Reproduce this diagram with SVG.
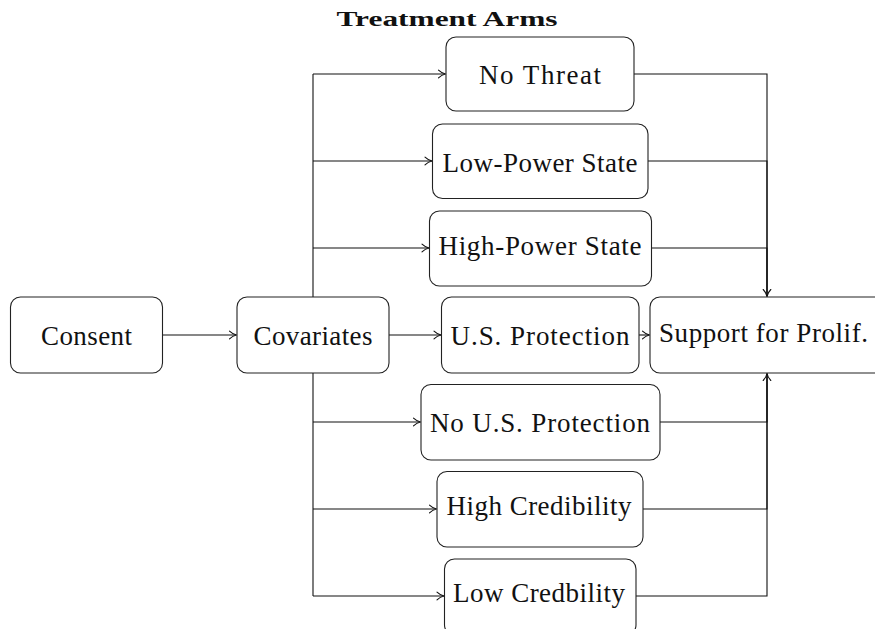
<svg xmlns="http://www.w3.org/2000/svg" width="875" height="629" viewBox="0 0 875 629">
<style>
.box{fill:#fff;stroke:#222;stroke-width:1.1}
.lbl{font-family:"Liberation Serif","Times New Roman",serif;font-size:27px;fill:#111;text-anchor:middle}
.title{font-family:"Liberation Serif","Times New Roman",serif;font-size:21px;font-weight:bold;fill:#111;text-anchor:middle}
.ln{fill:none;stroke:#111;stroke-width:1.1}
</style>
<defs>
<marker id="arr" viewBox="-8 -5 9 10" refX="0" refY="0" markerWidth="9" markerHeight="10" markerUnits="userSpaceOnUse" orient="auto">
<path d="M -7,-3.8 C -4.5,-1.4 -2,-0.4 0,0 C -2,0.4 -4.5,1.4 -7,3.8" fill="none" stroke="#111" stroke-width="1.1" stroke-linecap="round"/>
</marker>
</defs>
<text class="title" x="447" y="26" textLength="221" lengthAdjust="spacingAndGlyphs">Treatment Arms</text>
<g id="connectors">
<path class="ln" d="M162.5,335 H236.5" marker-end="url(#arr)"/>
<path class="ln" d="M313,74 V596"/>
<path class="ln" d="M313,74 H445.5" marker-end="url(#arr)"/>
<path class="ln" d="M313,161 H432" marker-end="url(#arr)"/>
<path class="ln" d="M313,248 H429" marker-end="url(#arr)"/>
<path class="ln" d="M389,335 H441" marker-end="url(#arr)"/>
<path class="ln" d="M313,422 H420.5" marker-end="url(#arr)"/>
<path class="ln" d="M313,509 H436.5" marker-end="url(#arr)"/>
<path class="ln" d="M313,596 H444" marker-end="url(#arr)"/>
<path class="ln" d="M639,335 H649.5" marker-end="url(#arr)"/>
<path class="ln" d="M634,74 H767 V296.5" marker-end="url(#arr)"/>
<path class="ln" d="M648,161 H767 V296.5"/>
<path class="ln" d="M651.5,248 H767 V296.5"/>
<path class="ln" d="M660,422 H767 V373.5"/>
<path class="ln" d="M643,509 H767 V373.5"/>
<path class="ln" d="M636,596 H767 V373.5" marker-end="url(#arr)"/>
</g>
<g id="consent"><rect class="box" x="10.5" y="297" width="152" height="76" rx="10"/><text class="lbl" x="86.5" y="345" textLength="91">Consent</text></g>
<g id="covariates"><rect class="box" x="237" y="297" width="152" height="76" rx="10"/><text class="lbl" x="313" y="345" textLength="119">Covariates</text></g>
<g id="no-threat"><rect class="box" x="446" y="37" width="188" height="74" rx="10"/><text class="lbl" x="540" y="84" textLength="122">No Threat</text></g>
<g id="low-power"><rect class="box" x="432.5" y="124" width="215.5" height="74.5" rx="10"/><text class="lbl" x="540" y="171.5" textLength="195">Low-Power State</text></g>
<g id="high-power"><rect class="box" x="429.5" y="211" width="222" height="75" rx="10"/><text class="lbl" x="540" y="254.5" textLength="203">High-Power State</text></g>
<g id="us-protection"><rect class="box" x="441.5" y="297" width="197.5" height="76" rx="10"/><text class="lbl" x="540" y="345" textLength="179">U.S. Protection</text></g>
<g id="support"><rect class="box" x="650" y="297" width="235" height="76" rx="10"/><text class="lbl" x="763.5" y="341.5" textLength="209">Support for Prolif.</text></g>
<g id="no-us-protection"><rect class="box" x="421" y="384.5" width="239" height="75.5" rx="10"/><text class="lbl" x="540" y="432" textLength="220">No U.S. Protection</text></g>
<g id="high-cred"><rect class="box" x="437" y="471.5" width="206" height="75.5" rx="10"/><text class="lbl" x="539" y="515" textLength="185">High Credibility</text></g>
<g id="low-cred"><rect class="box" x="444.5" y="559" width="191.5" height="76" rx="10"/><text class="lbl" x="539" y="602" textLength="172">Low Credbility</text></g>
</svg>
